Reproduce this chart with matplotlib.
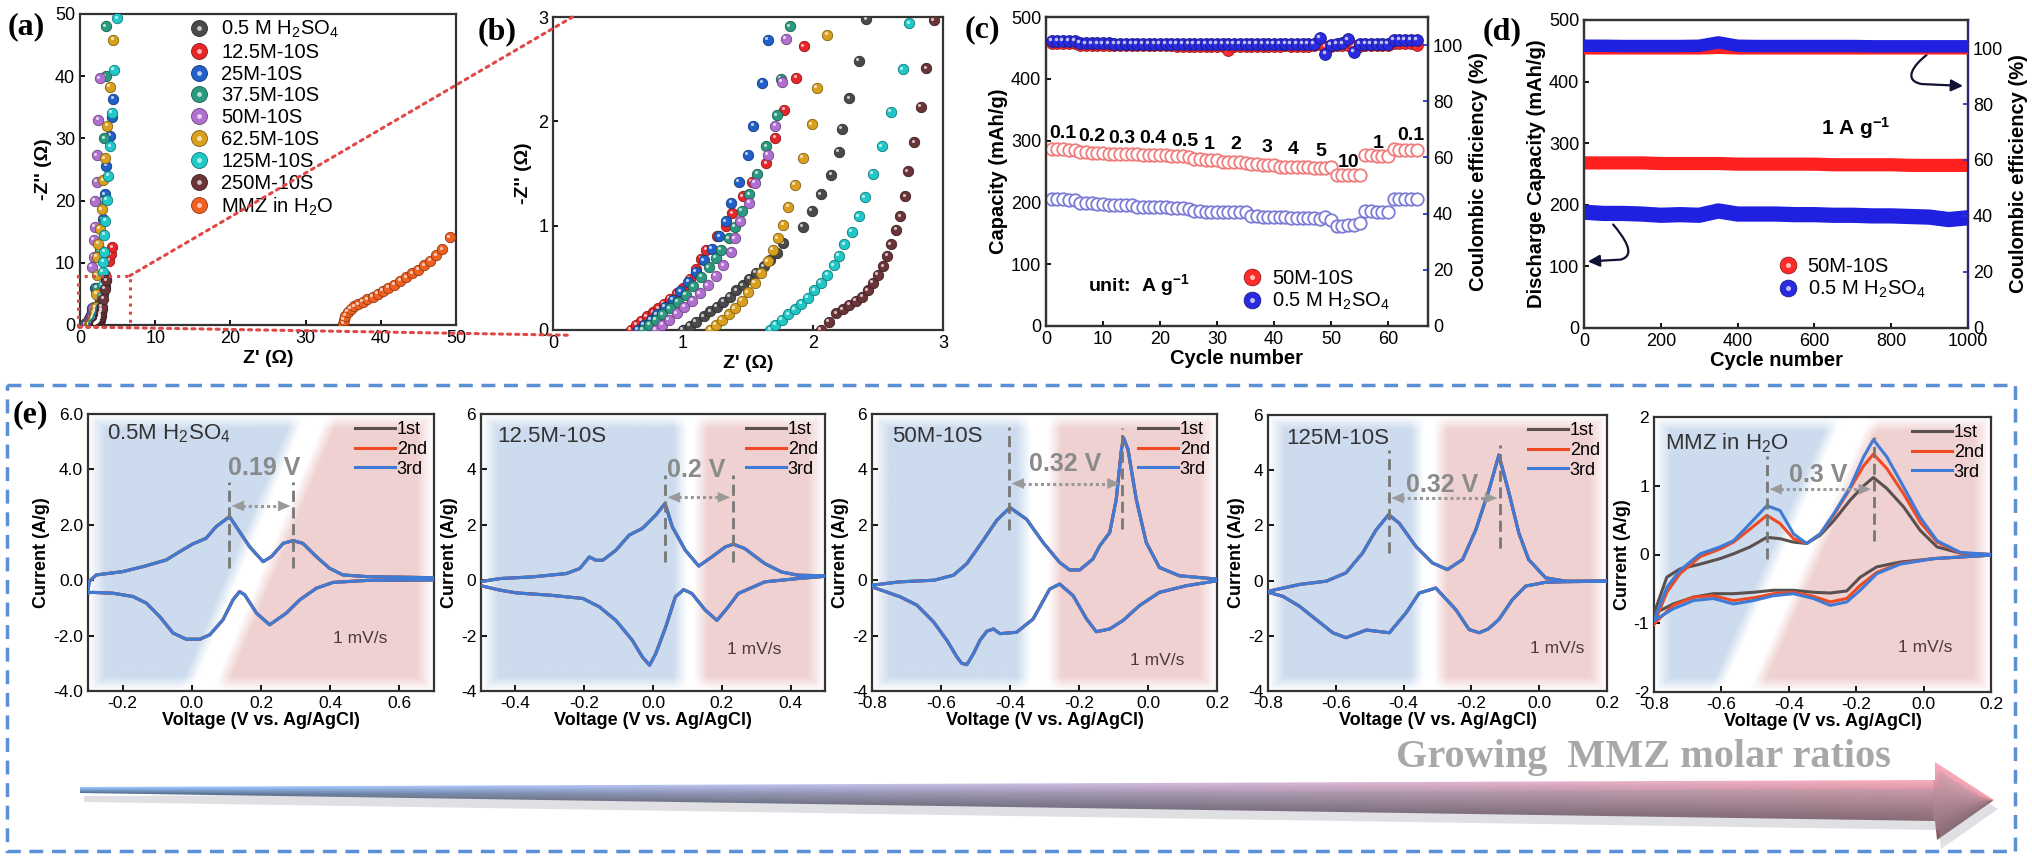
import numpy as np
import matplotlib
matplotlib.use('Agg')
import matplotlib.pyplot as plt
from matplotlib.colors import to_rgb
from matplotlib.lines import Line2D
from matplotlib.legend_handler import HandlerTuple
from matplotlib.patches import Rectangle, Polygon, ConnectionPatch, FancyArrowPatch
from matplotlib.path import Path
from matplotlib.transforms import offset_copy
from matplotlib.ticker import FormatStrFormatter

plt.rcParams['font.family'] = ['Liberation Sans', 'DejaVu Sans']
plt.rcParams['mathtext.default'] = 'regular'
plt.rcParams['xtick.direction'] = 'in'
plt.rcParams['ytick.direction'] = 'in'
plt.rcParams['axes.linewidth'] = 1.6
plt.rcParams['axes.edgecolor'] = '#333333'
plt.rcParams['xtick.major.width'] = 1.3
plt.rcParams['ytick.major.width'] = 1.3

# ---------------- data: EIS (a)/(b) ----------------
eis_labels = ['0.5 M H$_2$SO$_4$', '12.5M-10S', '25M-10S', '37.5M-10S', '50M-10S',
              '62.5M-10S', '125M-10S', '250M-10S', 'MMZ in H$_2$O']
eis_colors = ['#4a4a4a', '#e8262a', '#2060c8', '#2a9a80', '#b070d0',
              '#d9a020', '#20c8c8', '#6a3438', '#f06020']

zr_h2so4 = [1.00, 1.05, 1.10, 1.16, 1.21, 1.26, 1.31, 1.36, 1.41, 1.46, 1.51, 1.56, 1.62, 1.67, 1.72,
            1.77, 1.92, 1.99, 2.06, 2.14, 2.20, 2.22, 2.28, 2.35, 2.41, 2.70, 3.00, 3.30, 3.50]
zi_h2so4 = [0.00, 0.04, 0.08, 0.13, 0.18, 0.22, 0.27, 0.32, 0.38, 0.43, 0.49, 0.55, 0.61, 0.67, 0.74,
            0.83, 0.99, 1.14, 1.30, 1.49, 1.71, 1.93, 2.22, 2.58, 2.98, 4.00, 5.00, 6.20, 7.20]
zr_12p5 = [0.60, 0.64, 0.68, 0.72, 0.77, 0.81, 0.85, 0.90, 0.95, 1.00, 1.05, 1.10, 1.14, 1.18, 1.26,
           1.33, 1.38, 1.46, 1.53, 1.64, 1.71, 1.78, 1.87, 1.93, 2.60, 3.30, 3.90, 4.10, 4.30]
zi_12p5 = [0.00, 0.05, 0.09, 0.13, 0.17, 0.21, 0.25, 0.30, 0.35, 0.40, 0.49, 0.58, 0.68, 0.77, 0.90,
           1.00, 1.12, 1.28, 1.42, 1.60, 1.84, 2.11, 2.42, 2.72, 5.00, 8.00, 10.3, 11.4, 12.5]
zr_25 = [0.65, 0.70, 0.75, 0.80, 0.86, 0.92, 0.98, 1.04, 1.10, 1.16, 1.22, 1.28, 1.33, 1.37,
         1.43, 1.50, 1.54, 1.61, 1.65, 2.00, 2.50, 3.00, 3.30, 3.50, 4.00, 4.20, 4.40]
zi_25 = [0.00, 0.05, 0.10, 0.15, 0.22, 0.29, 0.37, 0.46, 0.56, 0.67, 0.78, 0.90, 1.04, 1.22,
         1.42, 1.68, 1.96, 2.37, 2.78, 6.00, 11.0, 17.0, 21.0, 25.6, 30.4, 33.5, 36.4]
zr_37p5 = [0.69, 0.74, 0.79, 0.84, 0.90, 0.96, 1.02, 1.08, 1.14, 1.20, 1.25, 1.29, 1.35, 1.40,
           1.45, 1.51, 1.57, 1.64, 1.72, 1.75, 1.82, 2.20, 2.60, 3.00, 3.20, 3.40, 3.46]
zi_37p5 = [0.00, 0.05, 0.10, 0.15, 0.21, 0.27, 0.34, 0.42, 0.51, 0.60, 0.69, 0.77, 0.88, 0.99,
           1.14, 1.30, 1.50, 1.76, 2.06, 2.41, 2.91, 6.00, 12.0, 20.0, 30.0, 40.0, 48.0]
zr_50 = [0.79, 0.84, 0.89, 0.95, 1.01, 1.07, 1.13, 1.19, 1.25, 1.31, 1.37, 1.40, 1.44, 1.51,
         1.55, 1.65, 1.71, 1.76, 1.79, 1.55, 1.80, 1.80, 2.00, 2.00, 2.20, 2.20, 2.44, 2.66]
zi_50 = [0.00, 0.05, 0.10, 0.16, 0.22, 0.28, 0.35, 0.43, 0.52, 0.62, 0.75, 0.88, 1.04, 1.22,
         1.41, 1.68, 1.96, 2.38, 2.79, 9.40, 11.0, 13.7, 15.8, 20.0, 23.0, 27.3, 33.0, 39.7]
zr_62p5 = [1.21, 1.25, 1.30, 1.35, 1.40, 1.45, 1.50, 1.55, 1.60, 1.65, 1.69, 1.73, 1.77, 1.81, 1.86,
           1.92, 1.99, 2.03, 2.11, 2.15, 2.20, 2.20, 2.44, 2.66, 2.90, 3.10, 3.30, 3.60, 3.99, 4.43]
zi_62p5 = [0.00, 0.05, 0.10, 0.15, 0.21, 0.28, 0.36, 0.45, 0.55, 0.66, 0.77, 0.88, 1.01, 1.18, 1.39,
           1.65, 1.97, 2.32, 2.83, 5.00, 8.00, 11.0, 13.1, 15.5, 18.6, 23.3, 26.8, 32.0, 38.3, 45.9]
zr_125 = [1.67, 1.71, 1.76, 1.81, 1.86, 1.91, 1.96, 2.01, 2.06, 2.11, 2.16, 2.20, 2.24, 2.30, 2.35, 2.40, 2.46,
          2.53, 2.60, 2.69, 2.74, 2.90, 3.00, 3.00, 3.10, 3.20, 3.20, 3.37, 3.55, 3.77, 4.00, 4.20, 4.50, 4.96]
zi_125 = [0.00, 0.05, 0.10, 0.15, 0.20, 0.25, 0.31, 0.38, 0.45, 0.53, 0.62, 0.71, 0.82, 0.94, 1.09, 1.27, 1.50,
          1.76, 2.09, 2.50, 2.94, 4.50, 6.50, 8.60, 10.2, 11.8, 14.5, 16.8, 20.1, 24.0, 28.7, 34.1, 41.0, 49.3]
zr_250 = [2.06, 2.12, 2.18, 2.23, 2.28, 2.33, 2.38, 2.42, 2.46, 2.50, 2.54, 2.57,
          2.60, 2.64, 2.67, 2.71, 2.73, 2.78, 2.83, 2.87, 2.93, 3.10, 3.30, 3.50]
zi_250 = [0.00, 0.08, 0.16, 0.20, 0.24, 0.28, 0.32, 0.38, 0.45, 0.53, 0.61, 0.71,
          0.82, 0.96, 1.09, 1.28, 1.52, 1.80, 2.14, 2.51, 2.97, 4.20, 5.80, 7.20]
zr_mmz = [35.0, 35.1, 35.3, 35.6, 36.0, 36.5, 37.0, 37.6, 38.2, 38.9, 39.6, 40.3,
          41.0, 41.8, 42.6, 43.4, 44.2, 45.0, 45.8, 46.6, 47.4, 48.2, 49.2]
zi_mmz = [0.2, 0.8, 1.5, 2.1, 2.6, 3.0, 3.3, 3.7, 4.1, 4.5, 5.0, 5.5,
          6.0, 6.5, 7.1, 7.7, 8.3, 8.9, 9.6, 10.3, 11.2, 12.2, 14.1]

# ---------------- data: rate capability (c) ----------------
cycles_c = list(range(1, 66))
cap_50m = [287, 286, 286, 285, 285, 281, 281, 280, 280, 280, 279, 279, 278, 278, 278, 278, 277, 277, 277, 276,
           276, 275, 275, 275, 274, 270, 270, 269, 269, 269, 266, 265, 265, 265, 264, 262, 262, 261, 261, 261,
           258, 258, 257, 257, 257, 257, 256, 256, 256, 258, 245, 244, 244, 244, 245, 276, 276, 275, 275, 275,
           286, 285, 285, 285, 284]
cap_h2so4 = [205, 205, 205, 204, 204, 199, 199, 199, 198, 198, 196, 196, 195, 195, 195, 193, 193, 193, 192, 192,
             192, 191, 191, 191, 190, 186, 186, 185, 185, 185, 185, 185, 185, 184, 184, 178, 178, 177, 177, 177,
             176, 176, 175, 175, 175, 174, 174, 173, 176, 172, 162, 162, 163, 164, 166, 186, 186, 185, 185, 185,
             205, 205, 205, 205, 205]
ce_50m = [100.8, 100.8, 100.8, 100.8, 100.8, 100.2, 100.0, 100.0, 100.0, 100.0, 100.0, 100.0, 99.9, 99.9, 99.9,
          99.9, 99.9, 99.9, 99.9, 99.9, 99.9, 99.9, 99.8, 99.8, 99.8, 99.8, 99.8, 99.8, 99.8, 99.8,
          99.6, 98.3, 99.6, 99.7, 99.7, 99.8, 99.8, 99.8, 99.8, 99.8, 99.8, 99.9, 99.8, 99.8, 99.8,
          99.8, 99.9, 100.4, 99.4, 99.8, 100.0, 100.0, 100.2, 99.6, 99.8, 99.9, 99.9, 99.9, 99.9, 99.9,
          100.9, 100.9, 100.9, 100.9, 100.2]
ce_h2so4 = [101.6, 101.6, 101.6, 101.6, 101.5, 100.8, 100.6, 100.6, 100.6, 100.6, 100.6, 100.5, 100.5, 100.5, 100.5,
            100.5, 100.5, 100.5, 100.5, 100.5, 100.5, 100.5, 100.5, 100.5, 100.5, 100.5, 100.5, 100.4, 100.4, 100.4,
            100.4, 100.4, 100.4, 100.4, 100.4, 100.3, 100.3, 100.3, 100.3, 100.3, 100.4, 100.5, 100.4, 100.4, 100.3,
            100.3, 100.4, 102.6, 97.0, 100.2, 100.4, 100.6, 102.0, 97.6, 100.4, 100.5, 100.5, 100.5, 100.5, 100.5,
            101.8, 101.9, 101.9, 101.9, 101.8]
rate_text = ['0.1', '0.2', '0.3', '0.4', '0.5', '1', '2', '3', '4', '5', '10', '1', '0.1']
rate_x = [3.0, 8.0, 13.3, 18.8, 24.4, 28.7, 33.3, 38.8, 43.3, 48.2, 53.0, 58.3, 64.0]
rate_y = [312, 307, 304, 304, 299, 293, 293, 289, 285, 282, 265, 296, 309]

# ---------------- data: long cycling (d) ----------------
cyc_long = [0, 50, 100, 150, 200, 250, 300, 350, 400, 450, 500, 550, 600, 650, 700, 750, 800, 850, 900, 950, 1000]
cap_long_50m = [268, 268, 268, 268, 267, 267, 267, 267, 266, 266, 266, 266, 266, 265, 265, 265, 265, 264, 264, 264, 264]
cap_long_h2so4 = [188, 186, 186, 185, 183, 184, 183, 190, 185, 185, 185, 184, 184, 183, 183, 182, 182, 181, 180, 176, 179]
ce_long_50m = [99.4, 99.4, 99.4, 99.4, 99.4, 99.4, 99.4, 99.6, 99.4, 99.4, 99.4, 99.4, 99.4, 99.4, 99.4, 99.4, 99.4, 99.4, 99.4, 99.4, 99.4]
ce_long_h2so4 = [100.8, 100.8, 100.7, 100.7, 100.7, 100.7, 100.8, 102.0, 100.8, 100.7, 100.7, 100.7, 100.7, 100.7, 100.7, 100.6, 100.6, 100.6, 100.6, 100.6, 100.6]

# ---------------- data: CV curves (e) ----------------
cv1_va = [-0.300, -0.297, -0.276, -0.200, -0.141, -0.074, -0.035, 0.003, 0.041, 0.070, 0.090, 0.109, 0.125,
          0.138, 0.167, 0.206, 0.230, 0.264, 0.293, 0.321, 0.360, 0.398, 0.437, 0.504, 0.600, 0.700]
cv1_ia = [-0.45, -0.05, 0.19, 0.31, 0.49, 0.73, 1.03, 1.31, 1.51, 1.93, 2.12, 2.29, 2.00,
          1.75, 1.21, 0.67, 0.85, 1.33, 1.43, 1.33, 0.85, 0.43, 0.19, 0.13, 0.11, 0.09]
cv1_vc = [0.700, 0.504, 0.408, 0.360, 0.312, 0.273, 0.225, 0.187, 0.153, 0.138, 0.119, 0.090, 0.052, 0.023,
          -0.016, -0.054, -0.093, -0.131, -0.170, -0.228, -0.286, -0.300]
cv1_ic = [0.01, -0.01, -0.08, -0.29, -0.71, -1.19, -1.61, -1.19, -0.53, -0.41, -0.71, -1.43, -1.97, -2.13,
          -2.13, -1.91, -1.31, -0.83, -0.59, -0.47, -0.44, -0.45]

cv2_va = [-0.500, -0.444, -0.350, -0.252, -0.213, -0.185, -0.166, -0.146, -0.108, -0.069, -0.031, 0.008, 0.035,
          0.056, 0.094, 0.133, 0.171, 0.210, 0.234, 0.267, 0.325, 0.373, 0.421, 0.500]
cv2_ia = [-0.05, 0.06, 0.12, 0.24, 0.42, 0.84, 0.72, 0.72, 1.08, 1.63, 1.87, 2.35, 2.77,
          1.93, 1.08, 0.51, 0.84, 1.20, 1.30, 1.14, 0.60, 0.30, 0.18, 0.16]
cv2_vc = [0.500, 0.421, 0.325, 0.248, 0.219, 0.186, 0.152, 0.113, 0.089, 0.065, 0.037, 0.008, -0.010,
          -0.031, -0.060, -0.108, -0.156, -0.204, -0.300, -0.396, -0.444, -0.500]
cv2_ic = [0.14, 0.06, -0.06, -0.48, -0.96, -1.45, -1.08, -0.48, -0.34, -0.60, -1.69, -2.65, -3.07,
          -2.77, -2.17, -1.45, -0.96, -0.66, -0.54, -0.46, -0.36, -0.20]

cv3_va = [-0.80, -0.72, -0.62, -0.564, -0.525, -0.477, -0.438, -0.40, -0.352, -0.304, -0.256, -0.227, -0.198,
          -0.16, -0.14, -0.111, -0.092, -0.077, -0.071, -0.058, -0.034, -0.005, 0.033, 0.091, 0.20]
cv3_ia = [-0.18, -0.06, 0.00, 0.18, 0.60, 1.45, 2.17, 2.62, 2.20, 1.36, 0.64, 0.37, 0.37,
          0.76, 1.24, 1.72, 2.92, 4.72, 5.14, 4.72, 2.92, 1.36, 0.46, 0.16, 0.04]
cv3_vc = [0.20, 0.111, 0.033, -0.025, -0.073, -0.111, -0.150, -0.178, -0.217, -0.256, -0.285, -0.333,
          -0.381, -0.429, -0.448, -0.467, -0.487, -0.506, -0.525, -0.540, -0.554, -0.583, -0.622,
          -0.67, -0.718, -0.80]
cv3_ic = [-0.02, -0.20, -0.44, -0.92, -1.46, -1.76, -1.86, -1.40, -0.56, -0.14, -0.32, -1.40,
          -1.88, -1.93, -1.76, -1.84, -2.17, -2.65, -3.05, -3.00, -2.77, -2.17, -1.50,
          -0.90, -0.60, -0.24]

cv4_va = [-0.80, -0.707, -0.628, -0.57, -0.521, -0.481, -0.444, -0.413, -0.364, -0.315, -0.271, -0.226,
          -0.187, -0.148, -0.119, -0.089, -0.06, -0.031, 0.019, 0.078, 0.20]
cv4_ia = [-0.39, -0.14, -0.02, 0.28, 1.00, 1.84, 2.39, 2.08, 1.24, 0.64, 0.40, 0.76,
          1.84, 3.29, 4.55, 3.17, 1.72, 0.76, 0.10, -0.02, -0.02]
cv4_vc = [0.20, 0.078, 0.019, -0.04, -0.079, -0.119, -0.150, -0.177, -0.207, -0.246, -0.305, -0.354,
          -0.393, -0.442, -0.51, -0.57, -0.609, -0.658, -0.707, -0.756, -0.80]
cv4_ic = [-0.02, -0.04, -0.06, -0.20, -0.69, -1.41, -1.75, -1.89, -1.77, -1.05, -0.27, -0.45,
          -1.17, -1.89, -1.79, -2.07, -1.89, -1.41, -0.93, -0.57, -0.42]

cv5_va = [-0.80, -0.762, -0.723, -0.663, -0.604, -0.564, -0.515, -0.465, -0.426, -0.386, -0.347,
          -0.307, -0.267, -0.218, -0.178, -0.149, -0.109, -0.059, -0.010, 0.040, 0.109, 0.20]
cv5_ia_1st = [-0.86, -0.33, -0.21, -0.14, -0.06, 0.01, 0.11, 0.25, 0.23, 0.18, 0.16,
              0.28, 0.49, 0.79, 1.00, 1.12, 0.96, 0.69, 0.35, 0.11, 0.02, 0.00]
cv5_ia_2nd = [-1.01, -0.55, -0.28, -0.03, 0.08, 0.18, 0.37, 0.57, 0.45, 0.23, 0.16,
              0.30, 0.57, 0.96, 1.29, 1.46, 1.25, 0.88, 0.47, 0.18, 0.02, 0.00]
cv5_ia_3rd = [-0.96, -0.48, -0.23, 0.01, 0.11, 0.20, 0.45, 0.71, 0.64, 0.30, 0.16,
              0.30, 0.59, 0.98, 1.42, 1.67, 1.42, 0.98, 0.54, 0.20, 0.03, 0.00]
cv5_vc = [0.20, 0.03, -0.069, -0.139, -0.188, -0.228, -0.277, -0.327, -0.386, -0.446, -0.505,
          -0.564, -0.624, -0.683, -0.743, -0.80]
cv5_ic_1st = [-0.01, -0.06, -0.11, -0.18, -0.33, -0.53, -0.56, -0.55, -0.52, -0.52, -0.55,
              -0.57, -0.57, -0.62, -0.72, -0.86]
cv5_ic_2nd = [-0.01, -0.06, -0.13, -0.26, -0.45, -0.64, -0.69, -0.61, -0.55, -0.57, -0.63,
              -0.67, -0.60, -0.62, -0.74, -1.01]
cv5_ic_3rd = [-0.01, -0.06, -0.14, -0.28, -0.52, -0.69, -0.74, -0.64, -0.57, -0.60, -0.67,
              -0.72, -0.64, -0.67, -0.79, -0.96]

cycle_names = ['1st', '2nd', '3rd']
cycle_colors = ['#5a5050', '#f04a23', '#3d7bd6']

# ---------------- figure ----------------
W, H = 2032, 859
fig = plt.figure(figsize=(W / 100, H / 100), dpi=100)


def add_ax(x0, y0, x1, y1):
    return fig.add_axes([x0 / W, 1 - y1 / H, (x1 - x0) / W, (y1 - y0) / H])


def darker(c, k=0.6):
    r, g, b = to_rgb(c)
    return (r * k, g * k, b * k)


def balls(ax, x, y, color, ms=8, z=3):
    ax.plot(x, y, 'o', ls='none', ms=ms, mfc=color, mec=darker(color), mew=0.6, zorder=z)
    hl = offset_copy(ax.transData, fig=fig, x=-ms * 0.15, y=ms * 0.15, units='points')
    ax.plot(x, y, 'o', ls='none', ms=ms * 0.3, mfc='white', mec='none', alpha=0.7, zorder=z, transform=hl)


def ball_handle(color, ms=11):
    return (Line2D([], [], marker='o', ls='none', ms=ms, mfc=color, mec=darker(color), mew=0.6),
            Line2D([], [], marker='o', ls='none', ms=ms * 0.3, mfc='white', mec='none', alpha=0.7))


# background decoration layer in pixel coords
deco = fig.add_axes([0, 0, 1, 1])
deco.axis('off')

# dashed box round (e)
deco.add_patch(Rectangle((7, 385), 2008, 466, fill=False, ec='#5b8fd6', lw=2.5, ls=(0, (4, 2.5))))

# gradient arrow
arrow_pts = [(80, 787), (1935, 780), (1935, 762), (1994, 800), (1937, 840), (1935, 821), (80, 793)]
deco.add_patch(Polygon([(x + 4, y + 9) for x, y in arrow_pts], closed=True, fc='#9a9aa8', ec='none', alpha=0.3))
arrow_poly = Polygon(arrow_pts, closed=True, fc='none', ec='none')
deco.add_patch(arrow_poly)
gx, gy = np.meshgrid(np.linspace(80, 1995, 900), np.linspace(758, 842, 120))
f = (gx - 80) / 1915
c_left = np.array([0.52, 0.70, 0.90])
c_right = np.array([0.86, 0.58, 0.63])
base = c_left * (1 - f[..., None]) + c_right * f[..., None]
top = np.where(gx > 1935, 762 + (gx - 1935) / 59 * 38, 787 - 7 * f)
bot = np.where(gx > 1935, 840 - (gx - 1935) / 59 * 40, 793 + 28 * f)
s = np.clip((gy - top) / np.maximum(bot - top, 1), 0, 1)
img = np.clip(base * (1.15 - 0.55 * s)[..., None], 0, 1)
im = deco.imshow(img, extent=(80, 1995, 842, 758), origin='upper', aspect='auto', interpolation='bilinear')
im.set_clip_path(arrow_poly)
deco.set_xlim(0, W)
deco.set_ylim(H, 0)

fig.text(1643 / W, 1 - 757 / H, 'Growing  MMZ molar ratios', family='Liberation Serif', weight='bold',
         fontsize=29, color='#a8a8a8', ha='center', va='center')

# panel letters
for lab, (px, py) in zip(['(a)', '(b)', '(c)', '(d)', '(e)'],
                         [(26, 27), (497, 32), (982, 30), (1502, 32), (30, 415)]):
    fig.text(px / W, 1 - py / H, lab, family='Liberation Serif', weight='bold', fontsize=23,
             ha='center', va='center')

# ---------------- (a) ----------------
eis_x = [zr_h2so4, zr_12p5, zr_25, zr_37p5, zr_50, zr_62p5, zr_125, zr_250, zr_mmz]
eis_y = [zi_h2so4, zi_12p5, zi_25, zi_37p5, zi_50, zi_62p5, zi_125, zi_250, zi_mmz]

axa = add_ax(80, 14, 456, 325)
for k, (xs, ys, c) in enumerate(zip(eis_x, eis_y, eis_colors)):
    balls(axa, xs, ys, c, ms=7.5, z=3 + k)
axa.set_xlim(0, 50)
axa.set_ylim(0, 50)
axa.set_xticks([0, 10, 20, 30, 40, 50])
axa.set_yticks([0, 10, 20, 30, 40, 50])
axa.tick_params(labelsize=13)
axa.set_xlabel("Z' (Ω)", fontsize=14, weight='bold', labelpad=2)
axa.set_ylabel("-Z'' (Ω)", fontsize=14, weight='bold', labelpad=2)
axa.add_patch(Rectangle((-0.2, -0.3), 6.8, 8.2, fill=False, ec='#e04848', lw=2.2, ls=':', clip_on=False, zorder=20))
axa.legend([ball_handle(c, 11.5) for c in eis_colors], eis_labels, handler_map={tuple: HandlerTuple(ndivide=1)},
           loc='upper left', bbox_to_anchor=(0.29, 0.985), frameon=False, fontsize=14.5,
           handlelength=1.0, handletextpad=0.6, labelspacing=0.14, borderpad=0, borderaxespad=0)

# ---------------- (b) ----------------
axb = add_ax(553, 17, 943, 330)
for k, (xs, ys, c) in enumerate(zip(eis_x, eis_y, eis_colors)):
    balls(axb, xs, ys, c, ms=7.5, z=3 + k)
axb.set_xlim(0, 3)
axb.set_ylim(0, 3)
axb.set_xticks([0, 1, 2, 3])
axb.set_yticks([0, 1, 2, 3])
axb.tick_params(labelsize=13)
axb.set_xlabel("Z' (Ω)", fontsize=14, weight='bold', labelpad=2)
axb.set_ylabel("-Z'' (Ω)", fontsize=14, weight='bold', labelpad=4)

for xa, xb in [((6.6, 7.9), (0.15, 3.0)), ((-0.2, -0.3), (0.13, -0.05))]:
    fig.add_artist(ConnectionPatch(xyA=xa, coordsA=axa.transData, xyB=xb, coordsB=axb.transData,
                                   color='#e04848', lw=2.2, ls=':', zorder=20))

# ---------------- (c) ----------------
axc = add_ax(1046, 17, 1428, 326)
axc.plot(cycles_c, cap_50m, 'o', ls='none', ms=9, mfc='white', mec='#f07c7c', mew=1.3, zorder=3)
axc.plot(cycles_c, cap_h2so4, 'o', ls='none', ms=9, mfc='white', mec='#7c7cd6', mew=1.3, zorder=3)
for t, x, y in zip(rate_text, rate_x, rate_y):
    axc.text(x, y, t, fontsize=14, weight='bold', ha='center', va='center')
axc.text(7.4, 66, 'unit:  A g$^{-1}$', fontsize=14, weight='bold', ha='left', va='center')
axc.set_xlim(0, 67)
axc.set_ylim(0, 500)
axc.set_xticks([0, 10, 20, 30, 40, 50, 60])
axc.set_yticks([0, 100, 200, 300, 400, 500])
axc.tick_params(labelsize=13)
axc.set_xlabel('Cycle number', fontsize=14.5, weight='bold', labelpad=1)
axc.set_ylabel('Capacity (mAh/g)', fontsize=14.5, weight='bold', labelpad=2)
axc2 = axc.twinx()
balls(axc2, cycles_c, ce_50m, '#ff2a2a', ms=8.5, z=3)
balls(axc2, cycles_c, ce_h2so4, '#2a2ae0', ms=8.5, z=4)
axc2.set_ylim(0, 110)
axc2.set_yticks([0, 20, 40, 60, 80, 100])
axc2.tick_params(labelsize=13, color='#2a3ad0')
axc2.set_ylabel('Coulombic efficiency (%)', fontsize=14.5, weight='bold', labelpad=4)
axc2.legend([ball_handle('#ff2a2a', 12), ball_handle('#2a2ae0', 12)], ['50M-10S', '0.5 M H$_2$SO$_4$'],
            handler_map={tuple: HandlerTuple(ndivide=1)}, loc='lower left', bbox_to_anchor=(0.512, 0.045),
            frameon=False, fontsize=14.5, handlelength=1.0, handletextpad=0.5, labelspacing=0.15,
            borderpad=0, borderaxespad=0)

# ---------------- (d) ----------------
axd = add_ax(1584, 20, 1968, 328)
axd.plot(cyc_long, cap_long_50m, color='#ff2020', lw=9.5, solid_capstyle='butt', zorder=3)
axd.plot(cyc_long, cap_long_h2so4, color='#2020e0', lw=11, solid_capstyle='butt', zorder=3)
axd.text(618, 324, '1 A g$^{-1}$', fontsize=15, weight='bold', ha='left', va='center')
axd.set_xlim(0, 1000)
axd.set_ylim(0, 500)
axd.set_xticks([0, 200, 400, 600, 800, 1000])
axd.set_yticks([0, 100, 200, 300, 400, 500])
axd.tick_params(labelsize=13)
axd.set_xlabel('Cycle number', fontsize=14.5, weight='bold', labelpad=1)
axd.set_ylabel('Discharge Capacity (mAh/g)', fontsize=14.5, weight='bold', labelpad=2)
for verts in [[(892, 443), (860, 428), (828, 402), (880, 396), (987, 393)],
              [(76, 168), (100, 150), (140, 118), (95, 111), (10, 108)]]:
    p = Path(verts, [Path.MOVETO, Path.CURVE4, Path.CURVE4, Path.CURVE4, Path.LINETO])
    axd.add_patch(FancyArrowPatch(path=p, arrowstyle='-|>,head_length=7,head_width=3.5', color='#111133',
                                  lw=1.6, clip_on=False, zorder=6))
axd2 = axd.twinx()
axd2.plot(cyc_long, ce_long_50m, color='#ff2020', lw=7, solid_capstyle='butt', zorder=3)
axd2.plot(cyc_long, ce_long_h2so4, color='#2020e0', lw=9, solid_capstyle='butt', zorder=4)
axd2.set_ylim(0, 110)
axd2.set_yticks([0, 20, 40, 60, 80, 100])
axd2.tick_params(labelsize=13, color='#2a3ad0')
axd2.spines['right'].set_color('#2a2a70')
axd2.set_ylabel('Coulombic efficiency (%)', fontsize=14.5, weight='bold', labelpad=4)
axd2.legend([ball_handle('#ff2a2a', 12), ball_handle('#2a2ae0', 12)], ['50M-10S', '0.5 M H$_2$SO$_4$'],
            handler_map={tuple: HandlerTuple(ndivide=1)}, loc='lower left', bbox_to_anchor=(0.504, 0.09),
            frameon=False, fontsize=14.5, handlelength=1.0, handletextpad=0.5, labelspacing=0.15,
            borderpad=0, borderaxespad=0)

# ---------------- (e) CV panels ----------------
BLUE_BG = np.array([0.80, 0.86, 0.93])
RED_BG = np.array([0.94, 0.82, 0.82])


def cv_background(ax, lo, hi, slope=0.0, soft=0.05):
    yy, xx = np.mgrid[0:1:160j, 0:1:240j]
    t = xx - slope * yy
    wb = np.clip((lo - t) / soft, 0, 1)
    wr = np.clip((t - hi) / soft, 0, 1)
    edge = np.clip(np.minimum(np.minimum(xx, 1 - xx), np.minimum(yy, 1 - yy)) / 0.05, 0, 1)
    wb = wb * edge
    wr = wr * edge
    bg = (1 - wb - wr)[..., None] * np.ones(3) + wb[..., None] * BLUE_BG + wr[..., None] * RED_BG
    ax.imshow(bg, extent=(0, 1, 0, 1), transform=ax.transAxes, origin='lower', aspect='auto',
              zorder=0, interpolation='bilinear')


cv_curves = [
    [(cv1_va + cv1_vc, cv1_ia + cv1_ic)] * 3,
    [(cv2_va + cv2_vc, cv2_ia + cv2_ic)] * 3,
    [(cv3_va + cv3_vc, cv3_ia + cv3_ic)] * 3,
    [(cv4_va + cv4_vc, cv4_ia + cv4_ic)] * 3,
    [(cv5_va + cv5_vc, cv5_ia_1st + cv5_ic_1st), (cv5_va + cv5_vc, cv5_ia_2nd + cv5_ic_2nd),
     (cv5_va + cv5_vc, cv5_ia_3rd + cv5_ic_3rd)],
]
cv_titles = ['0.5M H$_2$SO$_4$', '12.5M-10S', '50M-10S', '125M-10S', 'MMZ in H$_2$O']
cv_sep_text = ['0.19 V', '0.2 V', '0.32 V', '0.32 V', '0.3 V']

cv_layout = [
    dict(box=(88, 414, 434, 691), xlim=(-0.3, 0.7), ylim=(-4, 6), xt=[-0.2, 0.0, 0.2, 0.4, 0.6],
         yt=[-4, -2, 0, 2, 4, 6], yfmt='%.1f', bg=(0.30, 0.36, 0.33), title_xy=(0.055, 0.93),
         rate_xy=(0.708, 0.19), peaks=(0.1075, 0.2925), dash=((0.43, 3.56), (0.43, 3.56)), arr_y=2.68,
         sep_xy=(0.21, 4.04)),
    dict(box=(481, 414, 825, 691), xlim=(-0.5, 0.5), ylim=(-4, 6), xt=[-0.4, -0.2, 0.0, 0.2, 0.4],
         yt=[-4, -2, 0, 2, 4, 6], yfmt='%d', bg=(0.60, 0.62, 0.0), title_xy=(0.047, 0.92),
         rate_xy=(0.715, 0.15), peaks=(0.035, 0.232), dash=((0.66, 3.8), (0.66, 3.8)), arr_y=2.99,
         sep_xy=(0.125, 3.98)),
    dict(box=(872, 414, 1217, 691), xlim=(-0.8, 0.2), ylim=(-4, 6), xt=[-0.8, -0.6, -0.4, -0.2, 0.0, 0.2],
         yt=[-4, -2, 0, 2, 4, 6], yfmt='%d', bg=(0.46, 0.51, 0.0), title_xy=(0.057, 0.92),
         rate_xy=(0.748, 0.11), peaks=(-0.403, -0.074), dash=((1.81, 5.54), (1.84, 5.5)), arr_y=3.49,
         sep_xy=(-0.24, 4.18)),
    dict(box=(1268, 415, 1607, 691), xlim=(-0.8, 0.2), ylim=(-4, 6), xt=[-0.8, -0.6, -0.4, -0.2, 0.0, 0.2],
         yt=[-4, -2, 0, 2, 4, 6], yfmt='%d', bg=(0.46, 0.49, 0.0), title_xy=(0.055, 0.915),
         rate_xy=(0.773, 0.155), peaks=(-0.444, -0.116), dash=((1.0, 4.73), (1.18, 4.9)), arr_y=2.99,
         sep_xy=(-0.287, 3.47)),
    dict(box=(1654, 417, 1991, 692), xlim=(-0.8, 0.2), ylim=(-2, 2), xt=[-0.8, -0.6, -0.4, -0.2, 0.0, 0.2],
         yt=[-2, -1, 0, 1, 2], yfmt='%d', bg=(0.20, 0.28, 0.36), title_xy=(0.033, 0.905),
         rate_xy=(0.724, 0.16), peaks=(-0.465, -0.148), dash=((-0.06, 1.44), (0.2, 1.71)), arr_y=0.95,
         sep_xy=(-0.312, 1.15)),
]

for curves, title, sep, cfg in zip(cv_curves, cv_titles, cv_sep_text, cv_layout):
    ax = add_ax(*cfg['box'])
    lo, hi, slope = cfg['bg']
    cv_background(ax, lo, hi, slope, soft=0.04)
    for (xs, ys), name, col in zip(curves, cycle_names, cycle_colors):
        ax.plot(xs, ys, color=col, lw=2.2, label=name, zorder=3, solid_joinstyle='round')
    ax.set_xlim(*cfg['xlim'])
    ax.set_ylim(*cfg['ylim'])
    ax.set_xticks(cfg['xt'])
    ax.set_yticks(cfg['yt'])
    ax.xaxis.set_major_formatter(FormatStrFormatter('%.1f'))
    ax.yaxis.set_major_formatter(FormatStrFormatter(cfg['yfmt']))
    ax.tick_params(labelsize=12.5, length=4)
    ax.set_xlabel('Voltage (V vs. Ag/AgCl)', fontsize=13, weight='bold', labelpad=1)
    ax.set_ylabel('Current (A/g)', fontsize=13, weight='bold', labelpad=2)
    ax.text(*cfg['title_xy'], title, transform=ax.transAxes, fontsize=16, color='#333333', va='center')
    ax.text(*cfg['rate_xy'], '1 mV/s', transform=ax.transAxes, fontsize=12.5, color='#4a3a3a', va='center')
    ax.legend(loc='upper right', frameon=False, fontsize=13, handlelength=2.2, handletextpad=0.1,
              labelspacing=0.15, borderaxespad=0.3, borderpad=0.1)
    # peak separation marker
    x1, x2 = cfg['peaks']
    for xp, (y0, y1) in zip((x1, x2), cfg['dash']):
        ax.plot([xp, xp], [y0, y1], color='#777777', lw=2, ls=(0, (4, 2)), zorder=4)
    ay = cfg['arr_y']
    ax.plot([x1 + 0.02, x2 - 0.02], [ay, ay], color='#999999', lw=2.2, ls=(0, (1, 1)), zorder=4)
    for tip, tail in [(x1, x1 + 0.03), (x2, x2 - 0.03)]:
        ax.annotate('', xy=(tip, ay), xytext=(tail, ay),
                    arrowprops=dict(arrowstyle='-|>,head_length=0.8,head_width=0.35', color='#999999', lw=0.5),
                    zorder=5)
    ax.text(*cfg['sep_xy'], sep, fontsize=18, weight='bold', color='#8a8a8a', ha='center', va='center', zorder=5)

fig.savefig('out.png', dpi=100)
